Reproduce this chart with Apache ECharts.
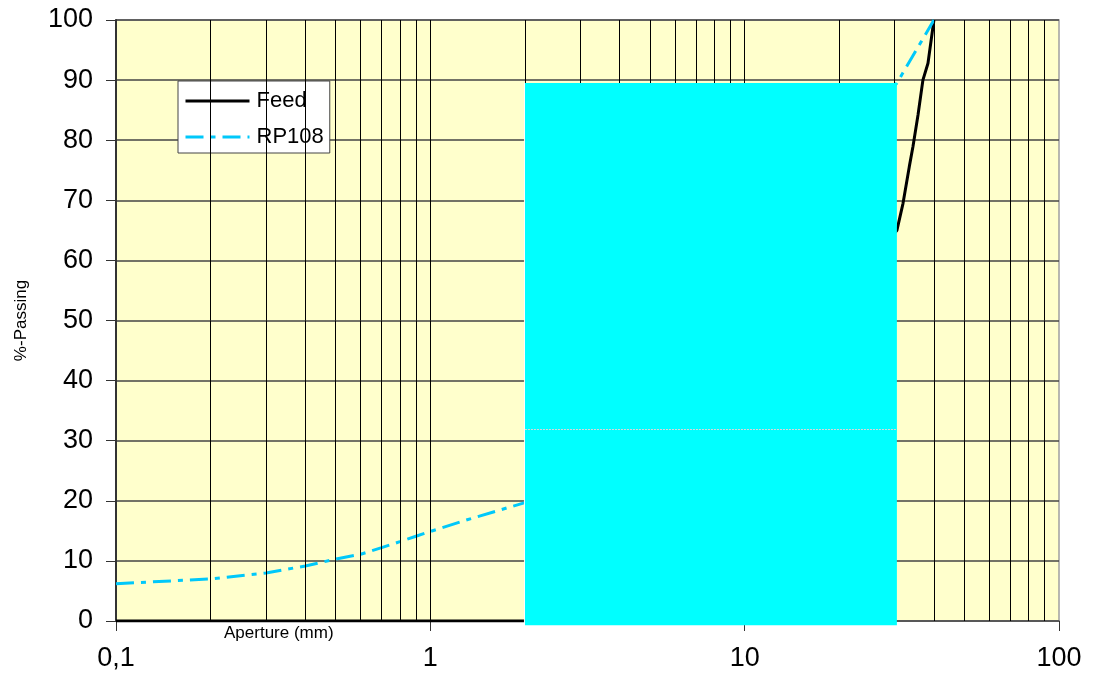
<!DOCTYPE html>
<html>
<head>
<meta charset="utf-8">
<title>Particle size distribution</title>
<script src="https://cdn.jsdelivr.net/npm/echarts@6/dist/echarts.min.js"></script>
<style>
  html, body { margin: 0; padding: 0; background: #ffffff; }
  #chart { width: 1101px; height: 679px; }
</style>
</head>
<body>
<div id="chart"></div>
<script>
// Sieve apertures (mm) and cumulative % passing
const feedX = [0.1, 0.5, 1, 2, 30.5, 31.9, 33.4, 34.3, 35.6, 36.9, 38.3, 40];
const feedY = [0, 0, 0, 0, 65, 69.5, 75.6, 78.9, 84.2, 90, 92.8, 100];

const rp108X = [0.1, 0.2, 0.3, 0.4, 0.5, 0.6, 0.7, 0.8, 0.9, 1, 1.3, 2, 30.5, 40];
const rp108Y = [6.2, 7, 8, 9.15, 10.3, 11.1, 12.2, 13.2, 14.1, 14.9, 16.8, 19.7, 89.5, 100];

// Filled block over the mid range (x from/to, y from/to) and its inner divider level
const blockX = [2, 30.5];
const blockY = [-0.7, 89.5];
const blockDivider = 32;

// Log-scale gridlines inside each decade
const xGridLines = [0.2, 0.3, 0.4, 0.5, 0.6, 0.7, 0.8, 0.9, 1,
                    2, 3, 4, 5, 6, 7, 8, 9, 10,
                    20, 30, 40, 50, 60, 70, 80, 90];
const xTickLabels = ['0,1', '1', '10', '100'];

const FONT = 'Arial, "Liberation Sans", sans-serif';

const chart = echarts.init(document.getElementById('chart'), null, { renderer: 'canvas' });

const pair = (xs, ys) => xs.map((x, i) => [x, ys[i]]);

chart.setOption({
  animation: false,
  backgroundColor: '#ffffff',
  textStyle: { fontFamily: FONT },
  grid: {
    left: 116, right: 42, top: 20, bottom: 58,
    show: true,
    backgroundColor: '#FFFFCC',
    borderColor: '#a0a0a0',
    borderWidth: 1.5
  },
  legend: {
    orient: 'vertical',
    left: 178, top: 81,
    padding: [9, 6, 5, 6],
    itemWidth: 64, itemHeight: 14,
    itemGap: 14,
    backgroundColor: '#ffffff',
    borderColor: '#444444',
    borderWidth: 1,
    borderRadius: 0,
    itemStyle: { opacity: 0 },
    lineStyle: { width: 3 },
    textStyle: { fontFamily: FONT, fontSize: 22, color: '#000', padding: [0, 0, 0, 2] },
    data: ['Feed', 'RP108']
  },
  xAxis: {
    type: 'log',
    logBase: 10,
    min: 0.1, max: 100,
    axisLine: { show: true, lineStyle: { color: '#555', width: 1.5 } },
    axisTick: { show: true, length: 10, lineStyle: { color: '#333', width: 1 } },
    axisLabel: {
      fontFamily: FONT, fontSize: 27, color: '#000', margin: 24,
      formatter: (v, i) => xTickLabels[i]
    },
    splitLine: { show: false },
    minorTick: { show: false },
    minorSplitLine: { show: false }
  },
  yAxis: {
    type: 'value',
    min: 0, max: 100, interval: 10,
    name: '%-Passing',
    nameLocation: 'middle',
    nameGap: 86,
    nameRotate: 90,
    nameTextStyle: { fontFamily: FONT, fontSize: 17, color: '#000' },
    axisLine: { show: true, lineStyle: { color: '#333', width: 2 } },
    axisTick: { show: true, length: 10, lineStyle: { color: '#333', width: 1 } },
    axisLabel: { fontFamily: FONT, fontSize: 27, color: '#000', margin: 23 },
    splitLine: { show: true, lineStyle: { color: '#444', width: 1.5 } }
  },
  graphic: [{
    type: 'text',
    left: 224, top: 625,
    style: { text: 'Aperture (mm)', fontFamily: FONT, fontSize: 17, fill: '#000' },
    z: 10
  }],
  series: [
    {
      // decade subdivision gridlines
      name: 'grid',
      type: 'line',
      data: [],
      silent: true,
      z: 1,
      markLine: {
        silent: true,
        symbol: ['none', 'none'],
        label: { show: false },
        animation: false,
        lineStyle: { color: '#000', width: 1, type: 'solid' },
        data: xGridLines.map(v => ({ xAxis: v }))
      }
    },
    {
      name: 'Feed',
      type: 'line',
      data: pair(feedX, feedY),
      symbol: 'none',
      z: 3,
      lineStyle: { color: '#000000', width: 3 },
      itemStyle: { color: '#000000' }
    },
    {
      name: 'RP108',
      type: 'line',
      data: pair(rp108X, rp108Y),
      symbol: 'none',
      z: 3,
      lineStyle: { color: '#00C8FA', width: 3, type: [18, 7, 5, 7] },
      itemStyle: { color: '#00C8FA' }
    },
    {
      name: 'block',
      type: 'custom',
      z: 5,
      clip: false,
      silent: true,
      encode: { x: [0, 2], y: [1, 3] },
      data: [[blockX[0], blockY[0], blockX[1], blockY[1], blockDivider]],
      renderItem: (params, api) => {
        const tl = api.coord([api.value(0), api.value(3)]);
        const br = api.coord([api.value(2), api.value(1)]);
        const dv = api.coord([api.value(0), api.value(4)]);
        return {
          type: 'group',
          children: [
            {
              type: 'rect',
              shape: { x: tl[0], y: tl[1], width: br[0] - tl[0], height: br[1] - tl[1] },
              style: { fill: '#00FFFF' }
            },
            {
              type: 'line',
              shape: { x1: tl[0] - 0.5, y1: tl[1], x2: tl[0] - 0.5, y2: br[1] },
              style: { stroke: '#ffffff', lineWidth: 1 }
            },
            {
              type: 'line',
              shape: { x1: tl[0], y1: Math.round(dv[1]) + 0.5, x2: br[0], y2: Math.round(dv[1]) + 0.5 },
              style: { stroke: '#d8d8d8', lineWidth: 1, lineDash: [2, 1] }
            }
          ]
        };
      }
    }
  ]
});
</script>
</body>
</html>
